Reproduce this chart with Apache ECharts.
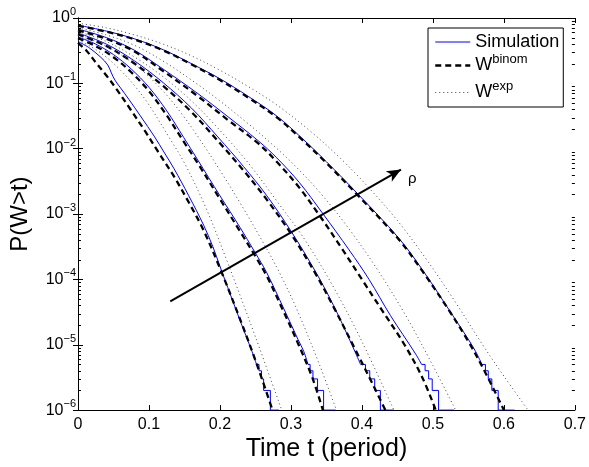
<!DOCTYPE html>
<html><head><meta charset="utf-8">
<script src="https://cdn.jsdelivr.net/npm/echarts/dist/echarts.min.js"></script>
<style>html,body{margin:0;padding:0;background:#fff}#c{width:589px;height:467px}</style>
</head><body><div id="c"></div>
<script>
// ---- tick labels ----
const xTickLabels = ['0','0.1','0.2','0.3','0.4','0.5','0.6','0.7'];
const legendNames = ['Simulation','Wbinom','Wexp'];

// ---- curves: [t, log10 P(W>t)] ----
const sim1 = [[0,-0.36],[0.015,-0.45],[0.032,-0.6],[0.042,-0.72],[0.047,-0.84],[0.052,-0.95],[0.06,-1.07],[0.072,-1.25],[0.088,-1.5],[0.108,-1.82],[0.121,-2.05],[0.135,-2.3],[0.156,-2.72],[0.177,-3.17],[0.19,-3.5],[0.2,-3.8],[0.205,-3.95],[0.228,-4.62],[0.245,-5.1],[0.2515,-5.3]];
const binom1 = [[0,-0.38],[0.012,-0.5],[0.025,-0.68],[0.04,-0.88],[0.055,-1.1],[0.074,-1.4],[0.095,-1.74],[0.113,-2.05],[0.135,-2.42],[0.156,-2.82],[0.177,-3.25],[0.2,-3.83],[0.228,-4.6],[0.252,-5.3],[0.274,-6.0]];
const exp1 = [[0,-0.34],[0.02,-0.45],[0.04,-0.6],[0.06,-0.8],[0.08,-1.04],[0.1,-1.33],[0.128,-1.82],[0.15,-2.22],[0.18,-2.9],[0.21,-3.72],[0.25,-4.88],[0.287,-6.0]];

const sim2 = [[0,-0.29],[0.025,-0.4],[0.05,-0.56],[0.075,-0.78],[0.1,-1.06],[0.125,-1.42],[0.149,-1.83],[0.168,-2.16],[0.2,-2.72],[0.228,-3.2],[0.249,-3.58],[0.266,-3.9],[0.29,-4.45],[0.31,-4.92],[0.318,-5.1],[0.324,-5.3]];
const binom2 = [[0,-0.31],[0.025,-0.43],[0.05,-0.6],[0.075,-0.83],[0.1,-1.12],[0.125,-1.49],[0.147,-1.86],[0.168,-2.21],[0.2,-2.77],[0.228,-3.26],[0.249,-3.63],[0.266,-3.95],[0.29,-4.5],[0.31,-4.98],[0.33,-5.5],[0.345,-6.0]];
const exp2 = [[0,-0.27],[0.03,-0.38],[0.06,-0.56],[0.09,-0.8],[0.12,-1.12],[0.145,-1.45],[0.168,-1.8],[0.2,-2.33],[0.23,-2.86],[0.26,-3.42],[0.284,-3.9],[0.31,-4.5],[0.34,-5.3],[0.364,-6.0]];

const sim3 = [[0,-0.23],[0.04,-0.4],[0.08,-0.66],[0.12,-0.99],[0.16,-1.38],[0.197,-1.82],[0.233,-2.27],[0.266,-2.72],[0.3006,-3.27],[0.3356,-3.9],[0.36,-4.4],[0.38,-4.86],[0.392,-5.15],[0.398,-5.3]];
const binom3 = [[0,-0.25],[0.04,-0.43],[0.08,-0.7],[0.12,-1.04],[0.16,-1.44],[0.197,-1.88],[0.233,-2.33],[0.266,-2.78],[0.3006,-3.31],[0.3356,-3.93],[0.36,-4.42],[0.39,-5.06],[0.415,-5.6],[0.433,-6.0]];
const exp3 = [[0,-0.21],[0.04,-0.36],[0.08,-0.6],[0.12,-0.9],[0.16,-1.27],[0.2,-1.72],[0.24,-2.22],[0.28,-2.8],[0.32,-3.4],[0.36,-4.12],[0.4,-4.95],[0.445,-6.0]];

const sim4 = [[0,-0.17],[0.04,-0.3],[0.079,-0.49],[0.121,-0.79],[0.168,-1.15],[0.21,-1.5],[0.254,-1.88],[0.28,-2.14],[0.312,-2.52],[0.344,-2.98],[0.382,-3.55],[0.41,-4.0],[0.44,-4.55],[0.4756,-5.14],[0.484,-5.3]];
const binom4 = [[0,-0.19],[0.04,-0.32],[0.079,-0.51],[0.121,-0.82],[0.168,-1.19],[0.21,-1.55],[0.254,-1.92],[0.28,-2.2],[0.312,-2.6],[0.344,-3.08],[0.37,-3.5],[0.4,-4.0],[0.43,-4.5],[0.46,-5.0],[0.485,-5.5],[0.504,-6.0]];
const exp4 = [[0,-0.15],[0.04,-0.26],[0.08,-0.42],[0.12,-0.66],[0.16,-0.95],[0.2,-1.27],[0.24,-1.62],[0.266,-1.86],[0.3,-2.2],[0.34,-2.66],[0.38,-3.2],[0.42,-3.82],[0.46,-4.52],[0.5,-5.32],[0.532,-6.0]];

const sim5 = [[0,-0.11],[0.04,-0.2],[0.08,-0.32],[0.121,-0.49],[0.16,-0.7],[0.2,-0.93],[0.24,-1.2],[0.28,-1.5],[0.3146,-1.83],[0.35,-2.2],[0.394,-2.69],[0.452,-3.37],[0.485,-3.85],[0.52,-4.42],[0.55,-4.92],[0.56,-5.1],[0.569,-5.3]];
const binom5 = [[0,-0.12],[0.04,-0.21],[0.08,-0.33],[0.121,-0.5],[0.16,-0.71],[0.2,-0.95],[0.24,-1.22],[0.28,-1.52],[0.3146,-1.85],[0.35,-2.22],[0.394,-2.71],[0.452,-3.39],[0.485,-3.87],[0.52,-4.43],[0.55,-4.95],[0.575,-5.45],[0.6,-6.0]];
const exp5 = [[0,-0.08],[0.04,-0.15],[0.08,-0.26],[0.12,-0.4],[0.16,-0.58],[0.2,-0.8],[0.24,-1.05],[0.28,-1.33],[0.326,-1.72],[0.37,-2.15],[0.41,-2.6],[0.45,-3.1],[0.49,-3.68],[0.53,-4.32],[0.57,-5.0],[0.6,-5.48],[0.634,-6.0]];

// simulation tails: count levels and the t where each level ends
const stepLevels = [5e-6,4e-6,3e-6,2e-6,1e-6];
const steps1 = [0.255,0.2585,0.2615,0.271,0.283];
const steps2 = [0.327,0.331,0.3375,0.346,0.363];
const steps3 = [0.405,0.411,0.418,0.426,0.445];
const steps4 = [0.489,0.494,0.499,0.508,0.53];
const steps5 = [0.574,0.578,0.583,0.592,0.615];

// arrow (rho direction) and its label
const arrowFrom = [0.13, 4.6e-5];
const arrowTo = [0.455, 4.8e-3];
const rhoPos = [0.471, 3.4e-3];

const FONT = 'Arial, "Liberation Sans", Helvetica, sans-serif';
const toP = a => a.map(p => [p[0], Math.pow(10, p[1])]);
function stairPts(smooth, drops) {
  const last = smooth[smooth.length-1];
  const pts = [[last[0], stepLevels[0]]];
  for (let i = 0; i < stepLevels.length; i++) {
    pts.push([drops[i], stepLevels[i]]);
    if (i < stepLevels.length-1) pts.push([drops[i], stepLevels[i+1]]);
  }
  return pts;
}

const groups = [
  [sim1, binom1, exp1, steps1],
  [sim2, binom2, exp2, steps2],
  [sim3, binom3, exp3, steps3],
  [sim4, binom4, exp4, steps4],
  [sim5, binom5, exp5, steps5]
];

const SMOOTH = 0.35;
const series = [];
groups.forEach(g => {
  series.push({name:'Simulation', type:'line', data: toP(g[0]), showSymbol:false, symbol:'none', smooth:SMOOTH,
    lineStyle:{color:'#0000ff', width:1}, itemStyle:{color:'#0000ff'}, z:2});
  series.push({name:'Simulation', type:'line', data: stairPts(g[0], g[3]), showSymbol:false, symbol:'none',
    lineStyle:{color:'#0000ff', width:1}, itemStyle:{color:'#0000ff'}, z:2});
});
groups.forEach(g => {
  series.push({name:'Wbinom', type:'line', data: toP(g[1]), showSymbol:false, symbol:'none', smooth:SMOOTH,
    lineStyle:{color:'#000', width:2.3, type:[6,4]}, itemStyle:{color:'#000'}, z:3});
});
groups.forEach(g => {
  series.push({name:'Wexp', type:'line', data: toP(g[2]), showSymbol:false, symbol:'none', smooth:SMOOTH,
    lineStyle:{color:'#444', width:1, type:[1,3]}, itemStyle:{color:'#444'}, z:3});
});

// minor log ticks (2..9 per decade) on left & right borders
const minorVals = [];
for (let d = -6; d < 0; d++) for (let k = 2; k <= 9; k++) minorVals.push([0, k*Math.pow(10,d)]);
series.push({type:'custom', silent:true, data:minorVals, clip:false, z:5,
  renderItem:(params, api) => {
    const v = api.value(1);
    const l = api.coord([0, v]), r = api.coord([0.7, v]);
    const y = Math.round(l[1]) + 0.5;
    return {type:'group', children:[
      {type:'line', shape:{x1:l[0], y1:y, x2:l[0]+3, y2:y}, style:{stroke:'#000', lineWidth:1}},
      {type:'line', shape:{x1:r[0]-3, y1:y, x2:r[0], y2:y}, style:{stroke:'#000', lineWidth:1}}
    ]};
  }});

// arrow + rho label
series.push({name:'arrow', type:'line', data:[], symbol:'none', z:6,
  markLine:{silent:true, symbol:['none','arrow'], symbolSize:[9,14], precision:6,
    lineStyle:{color:'#000', width:2, type:'solid'}, label:{show:false}, emphasis:{disabled:true},
    data:[[{coord:arrowFrom},{coord:arrowTo}]]},
  markPoint:{silent:true, symbol:'circle', symbolSize:1, itemStyle:{color:'rgba(0,0,0,0)'},
    label:{show:true, position:'inside', formatter:'ρ', color:'#000', fontSize:15, fontFamily:FONT},
    data:[{coord:rhoPos}]}
});

const yLabelFmt = v => {
  const e = Math.round(Math.log10(v));
  return '{b|10}{e|' + (e === 0 ? '0' : '\u2212' + (-e)) + '}';
};
const yRich = {
  b:{fontSize:16, fontFamily:FONT, color:'#000', verticalAlign:'middle', lineHeight:18},
  e:{fontSize:11, fontFamily:FONT, color:'#000', verticalAlign:'middle', lineHeight:18, padding:[0,0,12,0]}
};

const legendText = {fontSize:18, fontFamily:FONT, color:'#000'};
const chart = echarts.init(document.getElementById('c'), null, {renderer:'canvas', devicePixelRatio:1});
chart.setOption({
  animation:false,
  backgroundColor:'#fff',
  grid:{left:77, right:12, top:18, bottom:54, containLabel:false},
  legend:{
    data:[
      {name:'Simulation', itemStyle:{opacity:0}, lineStyle:{color:'#0000ff', width:1, type:'solid'}},
      {name:'Wbinom', itemStyle:{opacity:0}, lineStyle:{color:'#000', width:2.5, type:[6,4]}},
      {name:'Wexp', itemStyle:{opacity:0}, lineStyle:{color:'#444', width:1, type:[1,3]}}
    ],
    orient:'vertical', left:428, top:28, width:131,
    itemWidth:35, itemHeight:12, itemGap:2, padding:[5,4,2,6],
    borderColor:'#000', borderWidth:1, backgroundColor:'#fff', selectedMode:false,
    textStyle:Object.assign({}, legendText, {
      rich:{n:Object.assign({verticalAlign:'middle', lineHeight:24}, legendText),
            s:{fontSize:13, fontFamily:FONT, color:'#000', verticalAlign:'middle', lineHeight:24, padding:[0,0,12,0]}}}),
    formatter: name => name === 'Simulation' ? '{n|Simulation}' : '{n|W}{s|' + (name === 'Wbinom' ? 'binom' : 'exp') + '}'
  },
  xAxis:[{
    type:'value', min:0, max:0.7, interval:0.1, position:'bottom',
    name:'Time t (period)', nameLocation:'middle', nameGap:22,
    nameTextStyle:{fontSize:25, fontFamily:FONT, color:'#000'},
    axisLine:{show:true, lineStyle:{color:'#000', width:1}},
    axisTick:{show:true, inside:true, length:5, lineStyle:{color:'#000'}},
    axisLabel:{fontSize:16, fontFamily:FONT, color:'#000', margin:6, formatter: v => xTickLabels[Math.round(v*10)]},
    splitLine:{show:false}
  },{
    type:'value', min:0, max:0.7, interval:0.1, position:'top',
    axisLine:{show:true, lineStyle:{color:'#000', width:1}},
    axisTick:{show:true, inside:true, length:5, lineStyle:{color:'#000'}},
    axisLabel:{show:false}, splitLine:{show:false}
  }],
  yAxis:[{
    type:'log', logBase:10, min:1e-6, max:1, splitNumber:6, position:'left',
    name:'P(W>t)', nameLocation:'middle', nameGap:46, nameRotate:90,
    nameTextStyle:{fontSize:24, fontFamily:FONT, color:'#000'},
    axisLine:{show:true, lineStyle:{color:'#000', width:1}},
    axisTick:{show:true, inside:true, length:5, lineStyle:{color:'#000'}},
    axisLabel:{margin:2, formatter:yLabelFmt, rich:yRich},
    splitLine:{show:false}
  },{
    type:'log', logBase:10, min:1e-6, max:1, splitNumber:6, position:'right',
    axisLine:{show:true, lineStyle:{color:'#000', width:1}},
    axisTick:{show:true, inside:true, length:5, lineStyle:{color:'#000'}},
    axisLabel:{show:false}, splitLine:{show:false}
  }],
  series: series
});
</script></body></html>
